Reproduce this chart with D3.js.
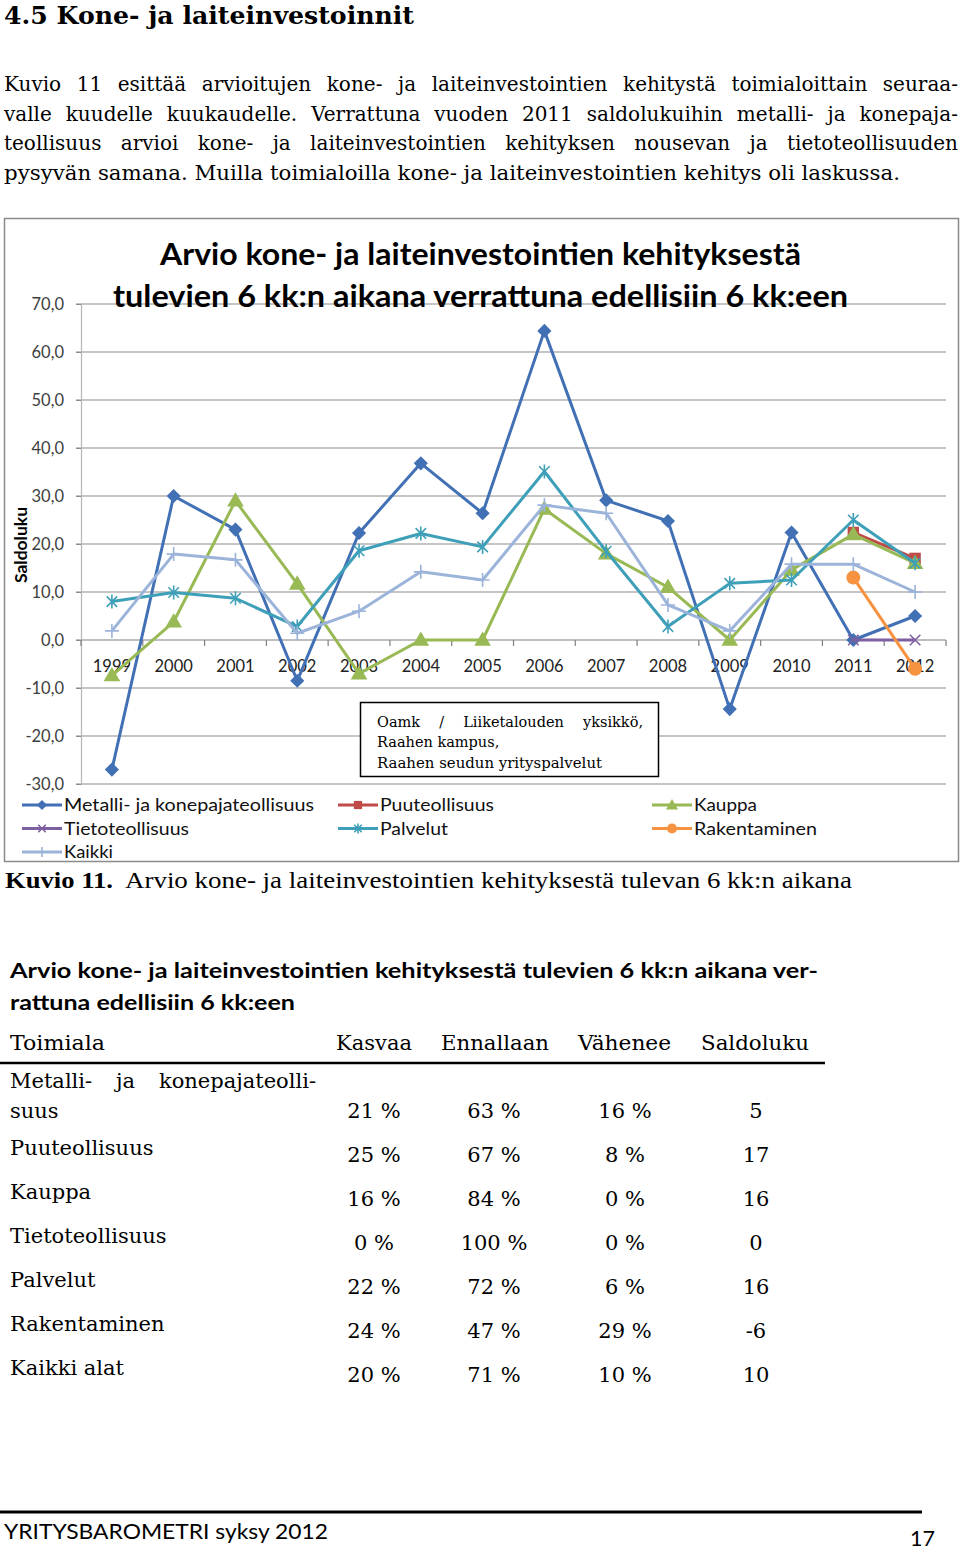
<!DOCTYPE html>
<html><head><meta charset="utf-8">
<script src="https://cdn.jsdelivr.net/npm/d3@7"></script>
<style>body{margin:0;background:#fff}svg{display:block}</style>
</head><body>
<script>
// ---------- DATA ----------
const years = ["1999","2000","2001","2002","2003","2004","2005","2006","2007","2008","2009","2010","2011","2012"];
const metalli      = [-27, 30, 23, -8.5, 22.3, 36.8, 26.4, 64.4, 29.1, 24.8, -14.4, 22.4, 0, 5];
const puuteollisuus= [null,null,null,null,null,null,null,null,null,null,null,null, 22.4, 17];
const kauppa       = [-7.4, 3.8, 29, 11.7, -7, 0, 0, 27.3, 18, 11, 0, 14.6, 22, 16];
const tieto        = [null,null,null,null,null,null,null,null,null,null,null,null, 0, 0];
const palvelut     = [8, 9.9, 8.7, 2.8, 18.6, 22.2, 19.4, 35.1, 18.5, 2.8, 11.8, 12.5, 25, 16];
const rakentaminen = [null,null,null,null,null,null,null,null,null,null,null,null, 13, -6];
const kaikki       = [1.9, 17.9, 16.7, 1.4, 6, 14.2, 12.5, 28.1, 26.4, 7.3, 1.9, 15.8, 15.8, 10];
const seriesNames  = ["Metalli- ja konepajateollisuus","Puuteollisuus","Kauppa","Tietoteollisuus","Palvelut","Rakentaminen","Kaikki"];
const yTicks = [-30,-20,-10,0,10,20,30,40,50,60,70];

const tableRows = ["Metalli- ja konepajateollisuus","Puuteollisuus","Kauppa","Tietoteollisuus","Palvelut","Rakentaminen","Kaikki alat"];
const kasvaa    = ["21 %","25 %","16 %","0 %","22 %","24 %","20 %"];
const ennallaan = ["63 %","67 %","84 %","100 %","72 %","47 %","71 %"];
const vahenee   = ["16 %","8 %","0 %","0 %","6 %","29 %","10 %"];
const saldoluku = ["5","17","16","0","16","-6","10"];
const tableHeader = ["Toimiala","Kasvaa","Ennallaan","Vähenee","Saldoluku"];

// ---------- STYLE ----------
const serif = "'DejaVu Serif','Liberation Serif',serif";
const serifN = "'Liberation Serif','DejaVu Serif',serif";
const sans = "Lato,'Open Sans',sans-serif";
const colors = ["#4170B5","#BE4B48","#98B954","#7D60A0","#3E9FB8","#F69240","#9CB4DA"];
const markers = ["diamond","square","triangle","x","star","circle","plus"];
const allSeries = [metalli,puuteollisuus,kauppa,tieto,palvelut,rakentaminen,kaikki];

const svg = d3.select("body").append("svg").attr("width",960).attr("height",1550);

function fitText(g, txt, x, y, w, opts){
  const t = g.append("text").attr("x",x).attr("y",y).text(txt)
    .attr("font-family",opts.family).attr("font-size",opts.size)
    .attr("font-weight",opts.weight||"normal").attr("fill",opts.fill||"#000");
  if (w) t.attr("textLength",w).attr("lengthAdjust",opts.adjust||"spacingAndGlyphs");
  return t;
}
function justify(g, txt, x0, x1, y, opts){
  const words = txt.split(" ");
  const nodes = words.map(wd => g.append("text").attr("y",y).text(wd)
    .attr("font-family",opts.family).attr("font-size",opts.size).attr("fill","#000"));
  const widths = nodes.map(n => n.node().getComputedTextLength());
  const total = d3.sum(widths);
  const gap = (x1-x0-total)/(words.length-1);
  let cx = x0;
  nodes.forEach((n,i)=>{ n.attr("x",cx); cx += widths[i]+gap; });
}

// ---------- PAGE TEXT ----------
fitText(svg,"4.5 Kone- ja laiteinvestoinnit",4,24,410,{family:serif,size:25,weight:"bold"});
const para = ["Kuvio 11 esittää arvioitujen kone- ja laiteinvestointien kehitystä toimialoittain seuraa-",
 "valle kuudelle kuukaudelle. Verrattuna vuoden 2011 saldolukuihin metalli- ja konepaja-",
 "teollisuus arvioi kone- ja laiteinvestointien kehityksen nousevan ja tietoteollisuuden"];
para.forEach((l,i)=>justify(svg,l,4,958,91+i*29.7,{family:serif,size:20}));
fitText(svg,"pysyvän samana. Muilla toimialoilla kone- ja laiteinvestointien kehitys oli laskussa.",4,180,896,{family:serif,size:20});

// ---------- CHART ----------
const chart = svg.append("g");
chart.append("rect").attr("x",4.5).attr("y",218.5).attr("width",954).attr("height",643)
  .attr("fill","#fff").attr("stroke","#8a8a8a").attr("stroke-width",1.5);

const x = d3.scaleBand().domain(years).range([81,946]);
const y = d3.scaleLinear().domain([-30,70]).range([784,304]);
const cx = d => x(d)+x.bandwidth()/2;

chart.append("g").selectAll("line").data(yTicks).join("line")
  .attr("x1",76).attr("x2",946).attr("y1",d=>y(d)).attr("y2",d=>y(d))
  .attr("stroke",d=>d===0?"#7f7f7f":"#8c8c8c").attr("stroke-width",1.2);

const yAxis = chart.append("g").attr("transform","translate(81,0)")
  .call(d3.axisLeft(y).tickValues(yTicks).tickSize(5).tickPadding(12)
    .tickFormat(d=>d.toFixed(1).replace(".",",")));
yAxis.select(".domain").attr("stroke","#b5b5b5").attr("stroke-width",1.2);
yAxis.selectAll(".tick line").attr("stroke","#8c8c8c");
yAxis.selectAll("text").attr("font-family",sans).attr("font-size",16.5).attr("fill","#404040");

const xAxis = chart.append("g").attr("transform",`translate(0,${y(0)})`)
  .call(d3.axisBottom(x).tickSize(0).tickPadding(20));
xAxis.select(".domain").remove();
xAxis.selectAll("text").attr("font-family",sans).attr("font-size",16.5).attr("fill","#222");
chart.append("g").selectAll("line").data(d3.range(years.length+1)).join("line")
  .attr("x1",i=>81+i*x.step()).attr("x2",i=>81+i*x.step())
  .attr("y1",y(0)).attr("y2",y(0)+6).attr("stroke","#7f7f7f").attr("stroke-width",1.2);

fitText(chart,"Arvio kone- ja laiteinvestointien kehityksestä",160,265,641,{family:sans,size:31,weight:"bold"});
fitText(chart,"tulevien 6 kk:n aikana verrattuna edellisiin 6 kk:een",113,307,735,{family:sans,size:31,weight:"bold"});

chart.append("text").attr("transform","translate(27,545) rotate(-90)").attr("text-anchor","middle")
  .attr("font-family",sans).attr("font-weight","bold").attr("font-size",17.5).text("Saldoluku");

function drawMarker(g, type, color, px, py, s){
  s = s||1;
  if (type==="diamond") g.append("path").attr("d",d3.symbol(d3.symbolSquare,100*s*s)())
    .attr("transform",`translate(${px},${py}) rotate(45)`).attr("fill",color);
  else if (type==="square") g.append("path").attr("d",d3.symbol(d3.symbolSquare,130*s*s)())
    .attr("transform",`translate(${px},${py})`).attr("fill",color);
  else if (type==="triangle") g.append("path").attr("d",d3.symbol(d3.symbolTriangle,120*s*s)())
    .attr("transform",`translate(${px},${py+1})`).attr("fill",color);
  else if (type==="circle") g.append("circle").attr("cx",px).attr("cy",py).attr("r",7*s).attr("fill",color);
  else {
    const r = 7*s; let d = "";
    if (type==="x"||type==="star") d += `M${px-r*0.75},${py-r*0.75}L${px+r*0.75},${py+r*0.75}M${px-r*0.75},${py+r*0.75}L${px+r*0.75},${py-r*0.75}`;
    if (type==="star") d += `M${px},${py-r}L${px},${py+r}`;
    if (type==="plus") d += `M${px-r},${py}L${px+r},${py}M${px},${py-r}L${px},${py+r}`;
    g.append("path").attr("d",d).attr("stroke",color).attr("stroke-width",1.6).attr("fill","none");
  }
}

const line = d3.line().defined(d=>d.v!==null).x(d=>cx(d.year)).y(d=>y(d.v));
allSeries.forEach((vals,si)=>{
  const pts = years.map((yr,i)=>({year:yr,v:vals[i]}));
  const g = chart.append("g");
  g.append("path").datum(pts).attr("d",line).attr("fill","none")
    .attr("stroke",colors[si]).attr("stroke-width",3).attr("stroke-linejoin","round");
  pts.filter(p=>p.v!==null).forEach(p=>drawMarker(g,markers[si],colors[si],cx(p.year),y(p.v)));
});

// text box
const tb = chart.append("g");
tb.append("rect").attr("x",360.5).attr("y",702.5).attr("width",298).attr("height",74)
  .attr("fill","#fff").attr("stroke","#000").attr("stroke-width",1.5);
svg.append("defs").append("clipPath").attr("id","tbclip").append("rect")
  .attr("x",361).attr("y",703).attr("width",297).attr("height",68);
const tbt = tb.append("g").attr("clip-path","url(#tbclip)");
justify(tbt,"Oamk / Liiketalouden yksikkö,",377,643,727,{family:serif,size:14.5});
fitText(tbt,"Raahen kampus,",377,747,null,{family:serif,size:14.5});
fitText(tbt,"Raahen seudun yrityspalvelut",377,768,225,{family:serif,size:14.5});

// legend
const legCols = [22,338,652];
const legW = [250,114,63,125,68,123,49];
const leg = chart.append("g");
seriesNames.forEach((n,i)=>{
  const lx = legCols[i%3], ly = 805 + Math.floor(i/3)*23.5;
  leg.append("line").attr("x1",lx).attr("x2",lx+40).attr("y1",ly).attr("y2",ly)
    .attr("stroke",colors[i]).attr("stroke-width",3);
  drawMarker(leg,markers[i],colors[i],lx+20,ly,0.72);
  fitText(leg,n,lx+42,ly+6,legW[i],{family:sans,size:18,fill:"#111"});
});

// caption
fitText(svg,"Kuvio 11.",5,888,108,{family:serifN,size:24,weight:"bold"});
fitText(svg,"Arvio kone- ja laiteinvestointien kehityksestä tulevan 6 kk:n aikana",125,888,727,{family:serifN,size:24});

// ---------- TABLE ----------
const tbl = svg.append("g");
fitText(tbl,"Arvio kone- ja laiteinvestointien kehityksestä tulevien 6 kk:n aikana ver-",10,978,808,{family:sans,size:21,weight:"bold"});
fitText(tbl,"rattuna edellisiin 6 kk:een",10,1010,285,{family:sans,size:21,weight:"bold"});
const headX = [10,336,441,578,701];
const headW = [95,76,108,93,108];
tableHeader.forEach((h,i)=>fitText(tbl,h,headX[i],1050,headW[i],{family:serif,size:21}));
tbl.append("line").attr("x1",0).attr("x2",825).attr("y1",1063).attr("y2",1063)
  .attr("stroke","#000").attr("stroke-width",2.5);

const colC = [374,494,625,756];
const cols = [kasvaa,ennallaan,vahenee,saldoluku];
tableRows.forEach((r,i)=>{
  const vy = i===0 ? 1118 : 1162 + (i-1)*44;
  if (i===0){
    justify(tbl,"Metalli- ja konepajateolli-",10,316,1088,{family:serif,size:21});
    fitText(tbl,"suus",10,1118,null,{family:serif,size:21});
  } else {
    fitText(tbl,r,10,vy-7,null,{family:serif,size:21});
  }
  cols.forEach((c,j)=>tbl.append("text").attr("x",colC[j]).attr("y",vy).attr("text-anchor","middle")
    .attr("font-family",serif).attr("font-size",21).text(c[i]));
});

// ---------- FOOTER ----------
svg.append("line").attr("x1",0).attr("x2",922).attr("y1",1512).attr("y2",1512)
  .attr("stroke","#000").attr("stroke-width",3);
fitText(svg,"YRITYSBAROMETRI syksy 2012",4,1539,324,{family:sans,size:22});
fitText(svg,"17",910,1546,25,{family:sans,size:22});
</script>
</body></html>
